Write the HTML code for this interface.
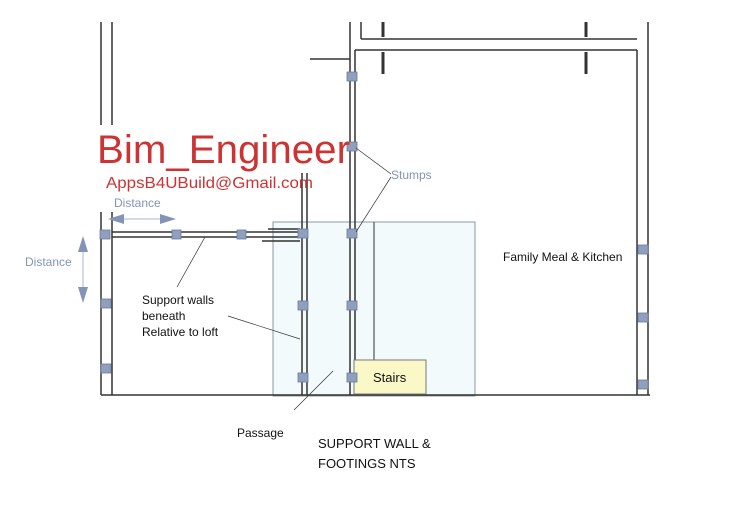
<!DOCTYPE html><html><head><style>body{margin:0;background:#fff}svg{display:block}text{font-family:"Liberation Sans",sans-serif}</style></head><body>
<svg width="750" height="516" viewBox="0 0 750 516">
<rect x="273" y="222" width="202" height="174" fill="#f3fafb" stroke="#8a9a9f" stroke-width="1"/>
<g stroke="#333" stroke-width="1.5" fill="none">
<line x1="101" y1="22" x2="101" y2="125"/><line x1="112" y1="22" x2="112" y2="125"/>
<line x1="101" y1="212" x2="101" y2="395"/><line x1="112" y1="212" x2="112" y2="395"/>
<line x1="101" y1="395" x2="650" y2="395"/>
<line x1="350" y1="22" x2="350" y2="395"/><line x1="355" y1="50" x2="355" y2="395"/>
<line x1="361" y1="22" x2="361" y2="39"/>
<line x1="361" y1="39" x2="637" y2="39"/><line x1="355" y1="50" x2="637" y2="50"/>
<line x1="637" y1="50" x2="637" y2="395"/><line x1="648" y1="22" x2="648" y2="395"/>
<line x1="310" y1="59" x2="350" y2="59"/>
<line x1="302" y1="173" x2="302" y2="395"/><line x1="307" y1="173" x2="307" y2="395"/>
<line x1="112" y1="232" x2="300" y2="232"/><line x1="112" y1="237" x2="300" y2="237"/>
<line x1="268" y1="229" x2="300" y2="229"/><line x1="262" y1="241" x2="300" y2="241"/>
<line x1="374" y1="222" x2="374" y2="395" stroke-width="1"/>
</g>
<g stroke="#333" stroke-width="3"><line x1="383" y1="22" x2="383" y2="37"/><line x1="383" y1="52" x2="383" y2="74"/><line x1="586" y1="22" x2="586" y2="37"/><line x1="586" y1="52" x2="586" y2="74"/></g>
<rect x="354" y="360" width="72" height="34" fill="#fbf8c8" stroke="#777"/>
<g fill="#8fa0bf" stroke="#6a7a99" stroke-width="0.8">
<rect x="347" y="72" width="10" height="9"/><rect x="347" y="142" width="10" height="9"/><rect x="347" y="229" width="10" height="9"/><rect x="347" y="301" width="10" height="9"/><rect x="347" y="373" width="10" height="9"/>
<rect x="298" y="229" width="10" height="9"/><rect x="298" y="301" width="10" height="9"/><rect x="298" y="373" width="10" height="9"/>
<rect x="100" y="230" width="10" height="9"/><rect x="172" y="230" width="9" height="9"/><rect x="237" y="230" width="9" height="9"/>
<rect x="101" y="299" width="10" height="9"/><rect x="101" y="364" width="10" height="9"/>
<rect x="638" y="245" width="10" height="9"/><rect x="638" y="313" width="10" height="9"/><rect x="638" y="380" width="10" height="9"/>
</g>
<g stroke="#333" stroke-width="0.7"><line x1="356" y1="148" x2="391" y2="174"/><line x1="356" y1="232" x2="391" y2="177"/><line x1="205" y1="237" x2="177" y2="287"/><line x1="228" y1="316" x2="300" y2="339"/><line x1="333" y1="371" x2="294" y2="410"/></g>
<g fill="#8394b8" stroke="#c5cfe0" stroke-width="1.5">
<line x1="112" y1="219" x2="172" y2="219"/><line x1="83" y1="240" x2="83" y2="300"/>
<polygon points="108,219 124,214 124,224" stroke="none"/><polygon points="176,219 160,214 160,224" stroke="none"/>
<polygon points="83,236 78,252 88,252" stroke="none"/><polygon points="83,303 78,287 88,287" stroke="none"/>
</g>
<text x="97" y="163" font-size="40" fill="#cc3333" textLength="253" lengthAdjust="spacingAndGlyphs">Bim_Engineer</text>
<text x="106" y="188" font-size="16" fill="#cc3333" textLength="207" lengthAdjust="spacingAndGlyphs">AppsB4UBuild@Gmail.com</text>
<g fill="#8394b8" font-size="12"><text x="114" y="207">Distance</text><text x="25" y="266">Distance</text><text x="391" y="179">Stumps</text></g>
<g fill="#111" font-size="12"><text x="142" y="304">Support walls</text><text x="142" y="320">beneath</text><text x="142" y="336">Relative to loft</text>
<text x="503" y="261">Family Meal &amp; Kitchen</text><text x="373" y="382" font-size="13">Stairs</text><text x="237" y="437">Passage</text>
<text x="318" y="448" font-size="13">SUPPORT WALL &amp;</text><text x="318" y="468" font-size="13">FOOTINGS NTS</text></g>
</svg></body></html>
